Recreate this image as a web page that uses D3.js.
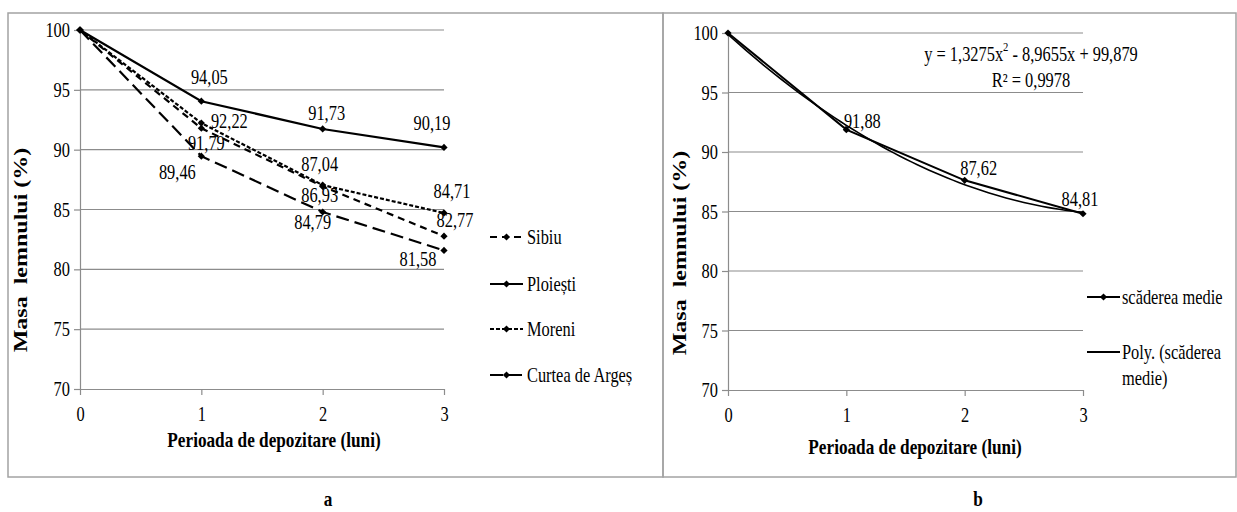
<!DOCTYPE html>
<html>
<head>
    <meta charset="utf-8">
    <title>Masa lemnului</title>
    <script type="text/javascript" src="https://cdn.jsdelivr.net/npm/d3@7/dist/d3.min.js"></script>
    <style>
        body { margin: 0; background: #fff; }
        svg text { font-family: "Liberation Serif", "Times New Roman", serif !important; fill: #000; }
    </style>
</head>

<body>

<script type="text/javascript">
    // data
    var months = [0, 1, 2, 3];
    var yTicks = [70, 75, 80, 85, 90, 95, 100];
    var seriesNames = ["Sibiu", "Ploiești", "Moreni", "Curtea de Argeș"];
    var sibiu = [100, 91.79, 86.93, 82.77];
    var ploiesti = [100, 94.05, 91.73, 90.19];
    var moreni = [100, 92.22, 87.04, 84.71];
    var curtea = [100, 89.46, 84.79, 81.58];
    var medie = [100, 91.88, 87.62, 84.81];
    var polyCoef = [99.879, -8.9655, 1.3275];   // c0 + c1*x + c2*x^2
    var rSquared = "0,9978";

    var width = 1237,
            height = 512,
            sx = 0.82,   // condensed look of the source font
            serif = "Liberation Serif";

    var dashes = ["7,5", null, "4,2", "13,6"];
    // label offsets [dx, dy] for each point (first point has no label)
    var offLeft = [
        [[0, 0], [5, 15], [-3, 9], [11, -16]],
        [[0, 0], [8, -24], [4, -16], [-12, -24]],
        [[0, 0], [28, -2], [-3, -21], [8, -22]],
        [[0, 0], [-24, 16], [-10, 10], [-26, 9]]
    ];
    var offRight = [[0, 0], [16, -8], [14, -12], [-3, -14]];

    var fmt = function (v) { return String(v).replace(".", ","); };

    var svg = d3.select("body").append("svg")
            .attr("width", width)
            .attr("height", height)
            .attr("font-family", serif);

    function txt(g, x, y, str, size, anchor, bold) {
        return g.append("text")
                .attr("transform", "translate(" + x + "," + y + ") scale(" + sx + ",1)")
                .attr("text-anchor", anchor || "middle")
                .attr("dominant-baseline", "central")
                .attr("font-family", serif)
                .style("font-size", size + "px")
                .style("font-weight", bold ? "bold" : "normal")
                .text(str);
    }

    var marker = d3.symbol().type(d3.symbolSquare).size(26);

    // panel frames
    svg.append("rect").attr("x", 8).attr("y", 13).attr("width", 655).attr("height", 464)
            .attr("fill", "none").attr("stroke", "#a3a3a3").attr("stroke-width", 1.5);
    svg.append("rect").attr("x", 663).attr("y", 13).attr("width", 573).attr("height", 464)
            .attr("fill", "none").attr("stroke", "#a3a3a3").attr("stroke-width", 1.5);

    function frame(x, y) {
        var g = svg.append("g");

        g.selectAll("line.grid")
                .data(yTicks.filter(function (d) { return d > 70; }))
                .enter().append("line")
                .attr("class", "grid")
                .attr("x1", x(0)).attr("x2", x(3))
                .attr("y1", function (d) { return y(d); })
                .attr("y2", function (d) { return y(d); })
                .attr("stroke", "#8c8c8c").attr("stroke-width", 1.2);

        var ax = g.append("g")
                .attr("transform", "translate(0," + y(70) + ")")
                .call(d3.axisBottom(x).tickValues(months).tickSize(6).tickSizeOuter(0).tickFormat(d3.format("d")));
        var ay = g.append("g")
                .attr("transform", "translate(" + x(0) + ",0)")
                .call(d3.axisLeft(y).tickValues(yTicks).tickSize(6).tickSizeOuter(0));

        [ax, ay].forEach(function (a) {
            a.attr("font-family", serif).attr("font-size", 20);
            a.select(".domain").attr("stroke", "#8c8c8c").attr("stroke-width", 1.2);
            a.selectAll(".tick line").attr("stroke", "#8c8c8c").attr("stroke-width", 1.2);
            a.selectAll(".tick text").attr("font-family", serif).style("font-size", "20px");
        });
        ax.selectAll(".tick text").attr("y", 0).attr("dy", null)
                .attr("dominant-baseline", "central")
                .attr("transform", "translate(0,25) scale(" + sx + ",1)");
        ay.selectAll(".tick text").attr("x", 0).attr("dy", null)
                .attr("dominant-baseline", "central")
                .attr("transform", "translate(-10,0) scale(" + sx + ",1)");
        return g;
    }

    function series(g, x, y, vals, dash, width) {
        var line = d3.line()
                .x(function (d, i) { return x(months[i]); })
                .y(function (d) { return y(d); });
        g.append("path")
                .datum(vals)
                .attr("d", line)
                .attr("fill", "none")
                .attr("stroke", "#000")
                .attr("stroke-width", width || 2.2)
                .attr("stroke-dasharray", dash);
        g.selectAll(null)
                .data(vals)
                .enter().append("path")
                .attr("d", marker)
                .attr("transform", function (d, i) { return "translate(" + x(months[i]) + "," + y(d) + ") rotate(45)"; });
    }

    function labels(g, x, y, vals, offs) {
        vals.forEach(function (v, i) {
            if (i === 0) return;
            txt(g, x(months[i]) + offs[i][0], y(v) + offs[i][1], fmt(v), 20);
        });
    }

    function legendItem(g, x, y, dash, hasMarker) {
        g.append("line")
                .attr("x1", x).attr("x2", x + 33)
                .attr("y1", y).attr("y2", y)
                .attr("stroke", "#000").attr("stroke-width", 2.2)
                .attr("stroke-dasharray", dash);
        if (hasMarker) {
            g.append("path").attr("d", marker).attr("transform", "translate(" + (x + 16.5) + "," + y + ") rotate(45)");
        }
    }

    function yTitle(g, x, y) {
        g.append("text")
                .attr("transform", "translate(" + x + "," + y + ") scale(" + sx + ",1) rotate(-90)")
                .attr("text-anchor", "middle")
                .attr("dominant-baseline", "central")
                .attr("font-family", serif)
                .style("font-size", "24px").style("font-weight", "bold")
                .style("white-space", "pre")
                .text("Masa  lemnului (%)");
    }

    // ---- panel a ----
    var xA = d3.scaleLinear().domain([0, 3]).range([80, 444]);
    var yA = d3.scaleLinear().domain([70, 100]).range([389, 30]);
    var gA = frame(xA, yA);
    var allA = [sibiu, ploiesti, moreni, curtea];

    allA.forEach(function (vals, k) { series(gA, xA, yA, vals, dashes[k]); });
    allA.forEach(function (vals, k) { labels(gA, xA, yA, vals, offLeft[k]); });

    var legY = [237, 284, 329, 375];
    seriesNames.forEach(function (n, k) {
        legendItem(gA, 490, legY[k], dashes[k], true);
        txt(gA, 527, legY[k], n, 20, "start");
    });

    txt(gA, 274, 440, "Perioada de depozitare (luni)", 21, "middle", true);
    yTitle(gA, 20, 250);
    txt(gA, 328, 499, "a", 21, "middle", true);

    // ---- panel b ----
    var xB = d3.scaleLinear().domain([0, 3]).range([728, 1083]);
    var yB = d3.scaleLinear().domain([70, 100]).range([390, 33]);
    var gB = frame(xB, yB);

    var trend = d3.range(0, 3.001, 0.05).map(function (t) {
        return [t, polyCoef[0] + polyCoef[1] * t + polyCoef[2] * t * t];
    });
    gB.append("path")
            .datum(trend)
            .attr("d", d3.line().x(function (d) { return xB(d[0]); }).y(function (d) { return yB(d[1]); }))
            .attr("fill", "none").attr("stroke", "#000").attr("stroke-width", 1.6);
    series(gB, xB, yB, medie, null, 2);
    labels(gB, xB, yB, medie, offRight);

    var eq = gB.append("text")
            .attr("transform", "translate(1031,54) scale(" + sx + ",1)")
            .attr("text-anchor", "middle")
            .attr("dominant-baseline", "central")
            .attr("font-family", serif)
            .style("font-size", "20px");
    eq.append("tspan").text("y = " + fmt(polyCoef[2]) + "x");
    eq.append("tspan").attr("dy", -7).style("font-size", "13px").text("2");
    eq.append("tspan").attr("dy", 7).text(" - " + fmt(-polyCoef[1]) + "x + " + fmt(polyCoef[0]));
    txt(gB, 1031, 80, "R² = " + rSquared, 20);

    legendItem(gB, 1087, 297, null, true);
    txt(gB, 1122, 297, "scăderea medie", 20, "start");
    legendItem(gB, 1087, 352, null, false);
    txt(gB, 1122, 352, "Poly. (scăderea", 20, "start");
    txt(gB, 1122, 378, "medie)", 20, "start");

    txt(gB, 915, 447, "Perioada de depozitare (luni)", 21, "middle", true);
    yTitle(gB, 679, 253);
    txt(gB, 978, 499, "b", 21, "middle", true);
</script>

</body>

</html>
